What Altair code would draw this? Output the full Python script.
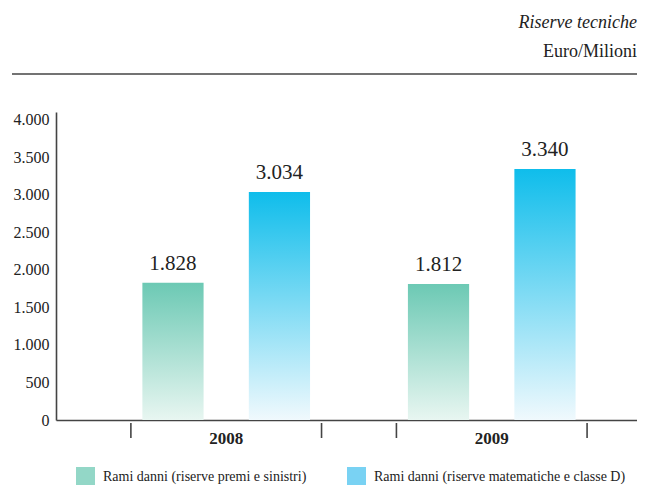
import altair as alt
import pandas as pd

years = ["2008", "2009"]
series = ["Rami danni (riserve premi e sinistri)",
          "Rami danni (riserve matematiche e classe D)"]
premi_sinistri = [1828, 1812]
matematiche_d = [3034, 3340]
y_ticks = [0, 500, 1000, 1500, 2000, 2500, 3000, 3500, 4000]
title_text = "Riserve tecniche"
unit_text = "Euro/Milioni"

rows = []
for i, yr in enumerate(years):
    for s, vals in zip(series, [premi_sinistri, matematiche_d]):
        v = vals[i]
        rows.append({"anno": yr, "serie": s, "valore": v,
                     "etichetta": f"{v:,}".replace(",", ".")})
df = pd.DataFrame(rows)

W, H = 581, 308
FONT = "Liberation Serif"
AX = "#444444"

x_enc = alt.X("anno:N", sort=years,
              scale=alt.Scale(paddingInner=0.282, paddingOuter=0.235, align=0.6),
              axis=alt.Axis(title=None, ticks=False, labelAngle=0, labelPadding=10,
                            labelFont=FONT, labelFontSize=17, labelFontWeight="bold",
                            labelColor="#222222", domainColor=AX, domainWidth=1.6))
xoff = alt.XOffset("serie:N", sort=series,
                   scale=alt.Scale(domain=series, paddingInner=0.425, paddingOuter=0.108))
y_enc = alt.Y("valore:Q",
              scale=alt.Scale(domain=[0, 4100], nice=False),
              axis=alt.Axis(title=None, values=y_ticks, ticks=False, grid=False,
                            labelPadding=7, labelFont=FONT, labelFontSize=16,
                            labelColor="#222222", domainColor=AX, domainWidth=1.6,
                            labelExpr="replace(format(datum.value, ','), ',', '.')"))

def grad(top, bottom):
    return alt.Gradient(gradient="linear", x1=0, x2=0, y1=0, y2=1,
                        stops=[alt.GradientStop(color=top, offset=0),
                               alt.GradientStop(color=bottom, offset=1)])

base = alt.Chart(df)
bars_green = base.transform_filter(alt.datum.serie == series[0]).mark_bar(
    fill=grad("#6cc9b4", "#e8f6f1")).encode(x=x_enc, xOffset=xoff, y=y_enc)
bars_blue = base.transform_filter(alt.datum.serie == series[1]).mark_bar(
    fill=grad("#0fbdeb", "#f0f9fd")).encode(x=x_enc, xOffset=xoff, y=y_enc)

labels = base.mark_text(font=FONT, fontSize=21, baseline="alphabetic", dy=-13,
                        color="#222222").encode(
    x=x_enc, xOffset=xoff, y=y_enc, text="etichetta:N")

legend_layer = base.mark_square(opacity=0).encode(
    color=alt.Color("serie:N", sort=series,
                    scale=alt.Scale(domain=series, range=["#93d7c7", "#79d2f3"]),
                    legend=alt.Legend(title=None, orient="none", direction="horizontal",
                                      legendX=20, legendY=355, symbolType="square",
                                      symbolSize=361, symbolOpacity=1, symbolStrokeWidth=0,
                                      labelFont=FONT, labelFontSize=14, labelColor="#222222",
                                      labelOffset=8, columnPadding=40, labelLimit=400)))

yr_df = pd.DataFrame({"anno": years})
tick_l = alt.Chart(yr_df).mark_rule(color=AX, strokeWidth=1.6).encode(
    x=alt.X("anno:N", sort=years, bandPosition=0), y=alt.value(H + 3), y2=alt.value(H + 18))
tick_r = alt.Chart(yr_df).mark_rule(color=AX, strokeWidth=1.6).encode(
    x=alt.X("anno:N", sort=years, bandPosition=1), y=alt.value(H + 3), y2=alt.value(H + 18))

t_df = pd.DataFrame({"t": [title_text]})
u_df = pd.DataFrame({"t": [unit_text]})
title_mark = alt.Chart(t_df).mark_text(font=FONT, fontSize=18, fontStyle="italic",
                                       align="right", baseline="alphabetic",
                                       color="#222222").encode(
    text="t:N", x=alt.value(W), y=alt.value(-84))
unit_mark = alt.Chart(u_df).mark_text(font=FONT, fontSize=18, align="right",
                                      baseline="alphabetic", color="#222222").encode(
    text="t:N", x=alt.value(W), y=alt.value(-55))
hline = alt.Chart(t_df).mark_rule(color=AX, strokeWidth=1.5).encode(
    x=alt.value(-44), x2=alt.value(W + 10), y=alt.value(-38))

chart = alt.layer(bars_green, bars_blue, labels, legend_layer, tick_l, tick_r,
                  title_mark, unit_mark, hline).properties(
    width=W, height=H,
    background="white",
    padding={"left": 48, "top": 104, "right": 0, "bottom": 65},
    autosize=alt.AutoSizeParams(type="none"),
).configure_view(stroke=None, strokeWidth=0)

chart.save("out.html", embed_options={"renderer": "svg", "actions": False})
